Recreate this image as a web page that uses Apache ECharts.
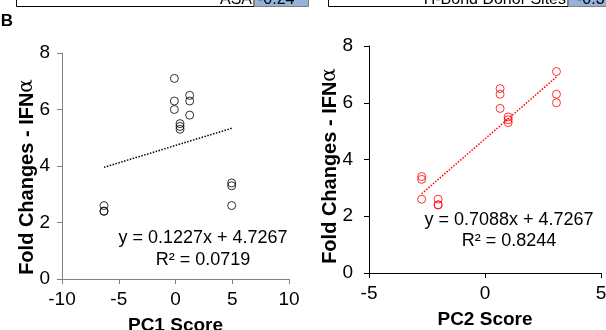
<!DOCTYPE html>
<html><head><meta charset="utf-8">
<script src="https://cdn.jsdelivr.net/npm/echarts@6/dist/echarts.min.js"></script>
<style>html,body{margin:0;padding:0;background:#fff}#c{width:606px;height:330px}</style>
</head><body><div id="c"></div>
<script>
// Data
const pc1Scores = [-0.1, -0.1, -0.1, 1.25, 1.25, 1.25, 0.4, 0.4, 0.4, -6.3, -6.3, -6.3, 4.95, 4.95, 4.95];
const pc2Scores = [3.08, 3.08, 3.08, 0.65, 0.65, 0.65, 1.0, 1.0, 1.0, -2.02, -2.02, -2.02, -2.73, -2.73, -2.73];
const foldChanges = [7.1, 6.3, 6.0, 6.5, 6.3, 5.8, 5.5, 5.4, 5.3, 2.6, 2.4, 2.4, 3.4, 3.3, 2.6];
const fit1 = [0.1227, 4.7267, 0.0719]; // slope, intercept, R²
const fit2 = [0.7088, 4.7267, 0.8244];
const xRange1 = [-10, 10, 5];
const xRange2 = [-5, 5, 5];
const yRange = [0, 8, 2];
const tableLabels = ['ASA', 'H-Bond Donor Sites'];
const tableValues = ['-0.24', '-0.3'];

const FONT = 'Liberation Sans, Arial, sans-serif';

function pairs(xs, ys) { return xs.map((x, i) => [x, ys[i]]); }
function trend(xs, fit) {
  const lo = Math.min(...xs), hi = Math.max(...xs);
  return [[lo, fit[0] * lo + fit[1]], [hi, fit[0] * hi + fit[1]]];
}
function fmtEq(fit) { return 'y = ' + fit[0].toFixed(4) + 'x + ' + fit[1].toFixed(4); }

function xAxis(idx, range, name, col, gap) {
  return {
    gridIndex: idx, type: 'value', min: range[0], max: range[1], interval: range[2],
    splitLine: { show: false },
    axisLine: { show: true, onZero: false, lineStyle: { color: col, width: 1 } },
    axisTick: { show: true, inside: false, length: 5, lineStyle: { color: col } },
    axisLabel: { fontSize: 19, color: '#000', margin: 11, fontFamily: FONT },
    name: name, nameLocation: 'middle', nameGap: gap,
    nameTextStyle: { fontSize: 19, fontWeight: 'bold', color: '#000', fontFamily: FONT }
  };
}
function yAxis(idx, col, margin) {
  return {
    gridIndex: idx, type: 'value', min: yRange[0], max: yRange[1], interval: yRange[2],
    splitLine: { show: false },
    axisLine: { show: true, onZero: false, lineStyle: { color: col, width: 1 } },
    axisTick: { show: true, inside: false, length: 5, lineStyle: { color: col } },
    axisLabel: { fontSize: 19, color: '#000', margin: margin, fontFamily: FONT }
  };
}
function yName(x, y) {
  return {
    type: 'text', x: x, y: y, rotation: Math.PI / 2, silent: true,
    style: {
      text: '{b|Fold Changes - IFN}{a|α}', align: 'center', verticalAlign: 'middle',
      rich: {
        b: { fontSize: 20, fontWeight: 'bold', fontFamily: FONT, fill: '#000' },
        a: { fontSize: 20, fontWeight: 'normal', fontFamily: 'DejaVu Serif, serif', fill: '#000' }
      }
    }
  };
}
function txt(x, y, s, size, opts) {
  return Object.assign({
    type: 'text', x: x, y: y, silent: true,
    style: { text: s, fontSize: size, fontFamily: FONT, fill: '#000', align: 'center', verticalAlign: 'middle' }
  }, opts || {});
}

const chart = echarts.init(document.getElementById('c'), null, { renderer: 'canvas' });
chart.setOption({
  animation: false,
  backgroundColor: '#fff',
  grid: [
    { left: 62, top: 53, width: 227, height: 226, containLabel: false, outerBoundsMode: 'none' },
    { left: 369, top: 46, width: 232, height: 227, containLabel: false, outerBoundsMode: 'none' }
  ],
  xAxis: [xAxis(0, xRange1, 'PC1 Score', '#808080', 37), xAxis(1, xRange2, 'PC2 Score', '#000', 37)],
  yAxis: [yAxis(0, '#808080', 12), yAxis(1, '#000', 16)],
  series: [
    { type: 'line', xAxisIndex: 0, yAxisIndex: 0, data: trend(pc1Scores, fit1), symbol: 'none', silent: true,
      lineStyle: { color: '#000', width: 1.5, type: [1.5, 1.5] }, z: 1 },
    { type: 'scatter', xAxisIndex: 0, yAxisIndex: 0, data: pairs(pc1Scores, foldChanges),
      symbol: 'circle', symbolSize: 8, itemStyle: { color: 'rgba(0,0,0,0)', borderColor: '#000', borderWidth: 1 }, z: 2 },
    { type: 'line', xAxisIndex: 1, yAxisIndex: 1, data: trend(pc2Scores, fit2), symbol: 'none', silent: true,
      lineStyle: { color: '#ff0000', width: 1.5, type: [1.5, 1.5] }, z: 1 },
    { type: 'scatter', xAxisIndex: 1, yAxisIndex: 1, data: pairs(pc2Scores, foldChanges),
      symbol: 'circle', symbolSize: 8, itemStyle: { color: 'rgba(0,0,0,0)', borderColor: '#ff0000', borderWidth: 1 }, z: 2 }
  ],
  graphic: [
    // partial table strip at top
    { type: 'rect', shape: { x: 16.5, y: -10, width: 237.5, height: 16.5 }, style: { fill: '#fff', stroke: '#000', lineWidth: 1 }, silent: true },
    { type: 'rect', shape: { x: 254.5, y: -10, width: 54, height: 16.5 }, style: { fill: '#95B3D7', stroke: '#7f7f7f', lineWidth: 1 }, silent: true },
    { type: 'rect', shape: { x: 328.5, y: -10, width: 239.5, height: 16.5 }, style: { fill: '#fff', stroke: '#000', lineWidth: 1 }, silent: true },
    { type: 'rect', shape: { x: 568.5, y: -10, width: 50, height: 16.5 }, style: { fill: '#95B3D7', stroke: '#7f7f7f', lineWidth: 1 }, silent: true },
    txt(252, -0.5, tableLabels[0], 16, { style: { text: tableLabels[0], fontSize: 16, fontFamily: FONT, fill: '#000', align: 'right', verticalAlign: 'middle' } }),
    txt(258, -0.5, tableValues[0], 16, { style: { text: tableValues[0], fontSize: 16, fontFamily: FONT, fill: '#000', align: 'left', verticalAlign: 'middle' } }),
    txt(566, -0.5, tableLabels[1], 16, { style: { text: tableLabels[1], fontSize: 16, fontFamily: FONT, fill: '#000', align: 'right', verticalAlign: 'middle' } }),
    txt(577, -0.5, tableValues[1], 16, { style: { text: tableValues[1], fontSize: 16, fontFamily: FONT, fill: '#000', align: 'left', verticalAlign: 'middle' } }),
    txt(7, 21, 'B', 17, { style: { text: 'B', fontSize: 17, fontWeight: 'bold', fontFamily: FONT, fill: '#000', align: 'center', verticalAlign: 'middle' } }),
    yName(27, 177),
    yName(330, 166),
    txt(203, 238, fmtEq(fit1), 18),
    txt(203, 260, 'R² = ' + fit1[2].toFixed(4), 18),
    txt(509, 220, fmtEq(fit2), 18),
    txt(509, 241, 'R² = ' + fit2[2].toFixed(4), 18)
  ]
});
</script>
</body></html>
